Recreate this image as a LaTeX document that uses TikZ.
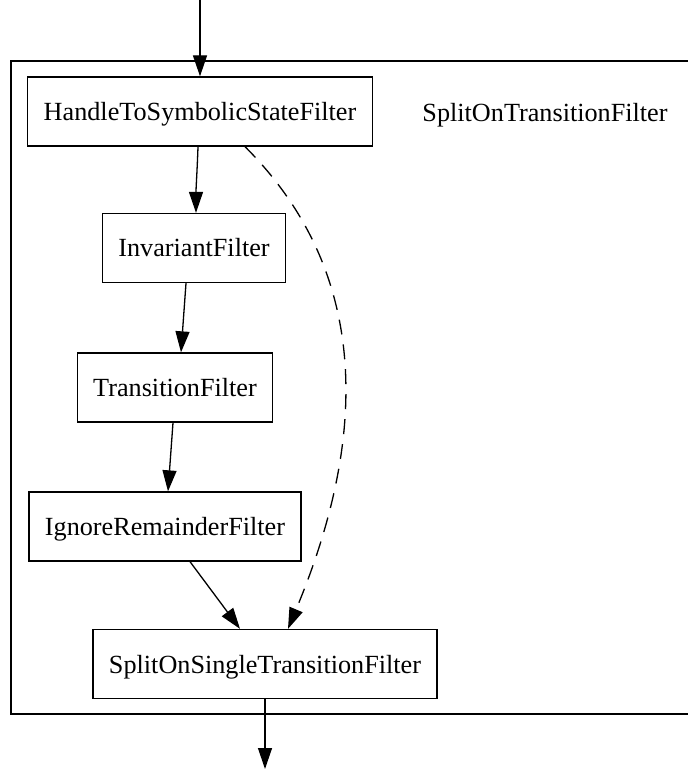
\documentclass[tikz,border=0pt]{standalone}
\usepackage{fontspec}
\setmainfont{Liberation Serif}
\usetikzlibrary{arrows.meta}

\tikzset{
  filterbox/.style={draw, line width=0.65pt, minimum height=34.5pt, inner xsep=8pt, text height=12pt, text depth=3pt},
  flow/.style={-{Triangle[length=10.5pt,width=7pt]}, line width=0.65pt},
  skipflow/.style={flow, dash pattern=on 7.5pt off 5pt}
}

\begin{document}
\begin{tikzpicture}[x=0.5pt,y=-0.5pt,font=\fontsize{13.1}{15}\selectfont]
\useasboundingbox (0,0) rectangle (688,769);
\draw[line width=0.65pt] (11,61) rectangle (700,714);
\node (cluster) at (545,115) {SplitOnTransitionFilter};
\node[filterbox] (hts) at (200,111.5) {HandleToSymbolicStateFilter};
\node[filterbox] (inv) at (194,248) {InvariantFilter};
\node[filterbox] (trans) at (175,387.5) {TransitionFilter};
\node[filterbox] (ign) at (165,526.5) {IgnoreRemainderFilter};
\node[filterbox] (split) at (265,664) {SplitOnSingleTransitionFilter};
\coordinate (in) at (200,0);
\coordinate (out) at (265,769);
\draw[flow] (in) -- (hts);
\draw[flow] ([xshift=-1pt]hts.south) to[out=-92,in=90] ([xshift=1pt]inv.north);
\draw[flow] ([xshift=-4pt]inv.south) -- ([xshift=3pt]trans.north);
\draw[flow] ([xshift=-1pt]trans.south) -- ([xshift=1.5pt]ign.north);
\draw[flow] ([xshift=12.5pt]ign.south) -- ([xshift=-12.5pt]split.north);
\draw[skipflow] ([xshift=22.5pt]hts.south) .. controls +(146,146) and +(63,-151) .. ([xshift=11.5pt]split.north);
\draw[flow] (split) -- (out);
\end{tikzpicture}
\end{document}
